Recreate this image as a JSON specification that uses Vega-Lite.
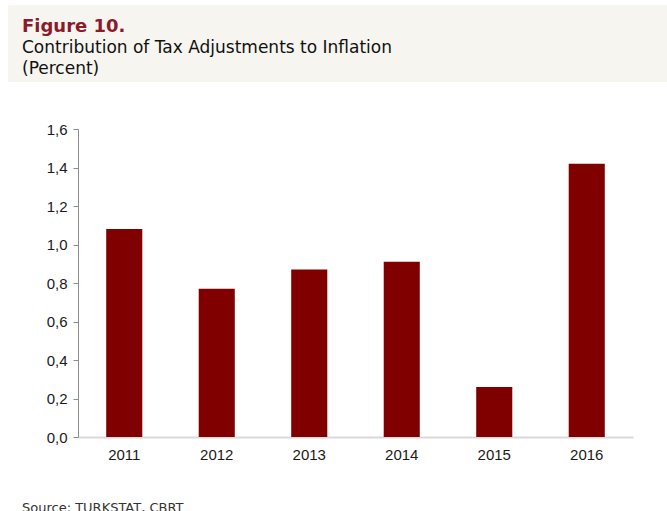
{
  "$schema": "https://vega.github.io/schema/vega-lite/v6.json",
  "background": "#ffffff",
  "padding": {"left": 8, "top": 5, "right": 0, "bottom": 0},
  "spacing": 40,
  "config": {"view": {"stroke": null}},
  "vconcat": [
    {
      "width": 659,
      "height": 77,
      "view": {"fill": "#f7f5f0", "stroke": null},
      "data": {"values": [{"t": ""}]},
      "mark": {"type": "text"},
      "encoding": {"text": {"field": "t"}},
      "title": {
        "text": "Figure 10.",
        "subtitle": ["Contribution of Tax Adjustments to Inflation", "(Percent)"],
        "anchor": "start",
        "frame": "bounds",
        "offset": -72,
        "dx": 14,
        "font": "DejaVu Sans",
        "fontSize": 18,
        "fontWeight": "bold",
        "color": "#8b1a2b",
        "subtitleFont": "DejaVu Sans",
        "subtitleFontSize": 17,
        "subtitleColor": "#111111",
        "subtitlePadding": 4,
        "subtitleLineHeight": 21
      }
    },
    {
      "width": 625,
      "height": 308,
      "data": {"values": [
        {"year": "2011", "value": 1.08},
        {"year": "2012", "value": 0.77},
        {"year": "2013", "value": 0.87},
        {"year": "2014", "value": 0.91},
        {"year": "2015", "value": 0.26},
        {"year": "2016", "value": 1.42}
      ]},
      "mark": {"type": "bar", "color": "#800000"},
      "encoding": {
        "x": {
          "field": "year", "type": "ordinal",
          "scale": {"range": [70, 625], "paddingInner": 0.61, "paddingOuter": 0.305},
          "axis": {"title": null, "labelAngle": 0, "ticks": false, "domainColor": "#d9d9d9", "domainWidth": 2,
                   "labelFont": "Liberation Sans", "labelFontSize": 15, "labelColor": "#1a1a1a", "labelPadding": 10}
        },
        "y": {
          "field": "value", "type": "quantitative",
          "scale": {"domain": [0, 1.6], "nice": false},
          "axis": {"title": null, "grid": false, "values": [0, 0.2, 0.4, 0.6, 0.8, 1.0, 1.2, 1.4, 1.6],
                   "labelExpr": "replace(format(datum.value, '.1f'), '.', ',')",
                   "offset": -70, "minExtent": 0,
                   "domainColor": "#8c8c8c", "tickColor": "#8c8c8c", "tickSize": 5,
                   "labelFont": "Liberation Sans", "labelFontSize": 15, "labelColor": "#1a1a1a", "labelPadding": 6}
        }
      },
      "title": {
        "text": "Source: TURKSTAT, CBRT",
        "orient": "bottom",
        "anchor": "start",
        "frame": "bounds",
        "dx": 14,
        "offset": 40,
        "font": "DejaVu Sans",
        "fontSize": 13,
        "fontWeight": "normal",
        "color": "#333333"
      }
    }
  ]
}
